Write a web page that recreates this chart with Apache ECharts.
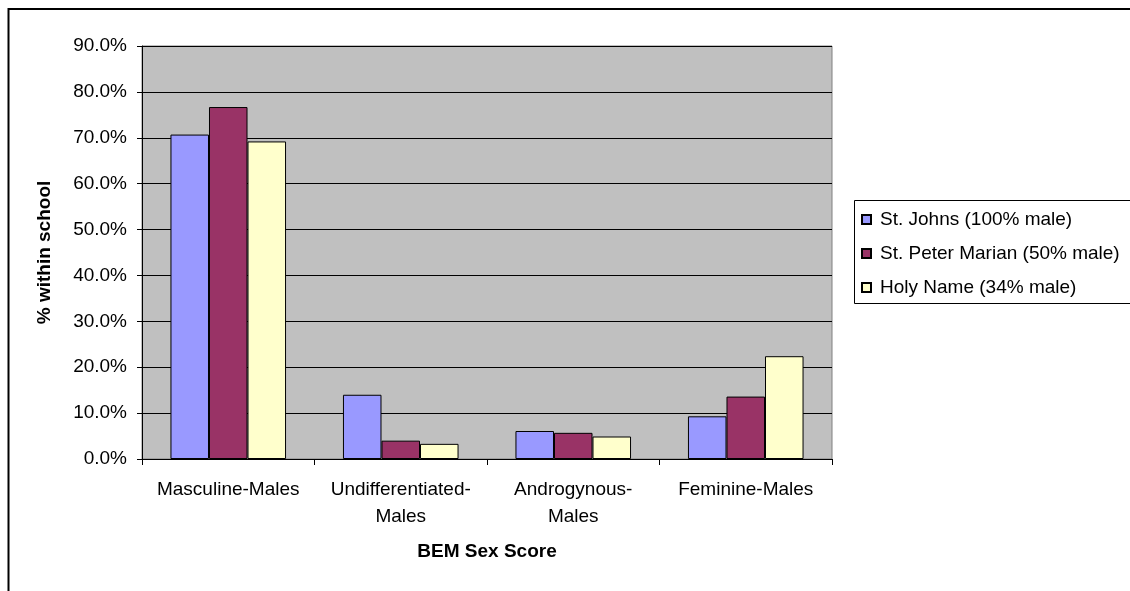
<!DOCTYPE html>
<html>
<head>
<meta charset="utf-8">
<script src="https://cdn.jsdelivr.net/npm/echarts@6/dist/echarts.min.js"></script>
<style>
html,body{margin:0;padding:0;background:#fff;}
#chart{width:1130px;height:591px;}
</style>
</head>
<body>
<div id="chart"></div>
<script>
const categories = ['Masculine-Males', 'Undifferentiated-\nMales', 'Androgynous-\nMales', 'Feminine-Males'];
const seriesNames = ['St. Johns (100% male)', 'St. Peter Marian (50% male)', 'Holy Name (34% male)'];
const stJohns = [70.7, 14.0, 6.1, 9.3];
const stPeterMarian = [76.7, 4.0, 5.7, 13.6];
const holyName = [69.2, 3.3, 4.9, 22.4];
const yTicks = [0, 10, 20, 30, 40, 50, 60, 70, 80, 90];

const colors = ['#9999FF', '#993366', '#FFFFCC'];
const FONT = 'Liberation Sans, Arial, sans-serif';
const FS = 19;

const chart = echarts.init(document.getElementById('chart'), null, {renderer: 'canvas'});
const allData = [stJohns, stPeterMarian, holyName];

chart.setOption({
  animation: false,
  backgroundColor: '#fff',
  textStyle: {fontFamily: FONT},
  grid: {left: 142, right: 298, top: 46, bottom: 132, show: true, backgroundColor: '#C0C0C0', borderColor: '#808080', borderWidth: 1},
  legend: {
    orient: 'vertical',
    left: 854, top: 200,
    padding: [10, 10, 8, 7],
    itemWidth: 9, itemHeight: 9, itemGap: 15,
    icon: 'rect',
    textStyle: {fontSize: FS, color: '#000', fontFamily: FONT, padding: [0, 0, 0, 4]},
    data: seriesNames
  },
  xAxis: {
    type: 'category',
    data: categories,
    name: 'BEM Sex Score',
    nameLocation: 'middle',
    nameGap: 83,
    nameTextStyle: {fontSize: FS, fontWeight: 'bold', color: '#000', fontFamily: FONT},
    axisLine: {lineStyle: {color: '#000', width: 1}},
    axisTick: {show: true, length: 6, interval: 0, lineStyle: {color: '#000'}},
    axisLabel: {interval: 0, fontSize: FS, color: '#000', margin: 17, lineHeight: 27, fontFamily: FONT}
  },
  yAxis: {
    type: 'value',
    min: yTicks[0], max: yTicks[yTicks.length - 1], interval: 10,
    name: '% within school',
    nameLocation: 'middle',
    nameGap: 88,
    nameTextStyle: {fontSize: FS, fontWeight: 'bold', color: '#000', fontFamily: FONT},
    axisLine: {show: true, lineStyle: {color: '#000', width: 1}},
    axisTick: {show: true, inside: false, length: 5, lineStyle: {color: '#000'}},
    axisLabel: {fontSize: FS, color: '#000', margin: 15, fontFamily: FONT, formatter: v => v.toFixed(1) + '%'},
    splitLine: {show: true, lineStyle: {color: '#000', width: 1}}
  },
  series: seriesNames.map((n, i) => ({
    name: n,
    type: 'bar',
    data: allData[i],
    barGap: '0%',
    barCategoryGap: '33%',
    itemStyle: {color: colors[i], borderColor: '#000', borderWidth: 1}
  })),
  graphic: [
    {type: 'rect', shape: {x: 8.5, y: 9, width: 1140, height: 600}, style: {fill: null, stroke: '#000', lineWidth: 2}, silent: true, z: 100},
    {type: 'rect', shape: {x: 854.5, y: 200.5, width: 300, height: 103}, style: {fill: null, stroke: '#000', lineWidth: 1}, silent: true, z: 100}
  ]
});
</script>
</body>
</html>
